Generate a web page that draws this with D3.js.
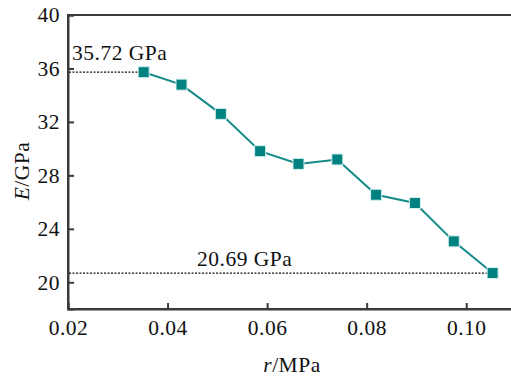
<!DOCTYPE html>
<html>
<head>
<meta charset="utf-8">
<script src="https://cdn.jsdelivr.net/npm/d3@7"></script>
<style>
  body { margin: 0; background: #fff; }
  text { font-family: "Liberation Serif", "DejaVu Serif", serif; fill: #111; }
</style>
</head>
<body>
<div class="container"></div>
<script>
// r in MPa, E in GPa
var rValues = [0.0352, 0.0428, 0.0507, 0.0586, 0.0663, 0.0741, 0.0819, 0.0897, 0.0975, 0.1053];
var eValues = [35.72, 34.79, 32.60, 29.81, 28.86, 29.19, 26.55, 25.93, 23.06, 20.69];
var xTicks = [0.02, 0.04, 0.06, 0.08, 0.10];
var yTicks = [20, 24, 28, 32, 36, 40];
var markLabels = ["35.72 GPa", "20.69 GPa"];

var data = rValues.map(function(r, i) { return {r: r, e: eValues[i]}; });

var margin = {top: 15, left: 68},
    width = 448,
    height = 294;

var fontSize = "21.5px";

var svg = d3.select(".container")
  .append("svg")
    .attr("width", 511)
    .attr("height", 380)
  .append("g")
    .attr("transform", "translate(" + margin.left + "," + margin.top + ")");

var x = d3.scaleLinear().domain([0.02, 0.11]).range([0, width]);
var y = d3.scaleLinear().domain([18, 40]).range([height, 0]);

var axisColor = "#3a3a3a";

// frame (right edge falls outside the picture)
svg.append("rect")
  .attr("x", 0).attr("y", 0)
  .attr("width", width).attr("height", height)
  .attr("fill", "none")
  .attr("stroke", axisColor)
  .attr("stroke-width", 2);

// axes, ticks pointing inward
var xAxis = svg.append("g")
  .attr("transform", "translate(0," + height + ")")
  .call(d3.axisBottom(x).tickValues(xTicks).tickSize(-6).tickPadding(11)
    .tickFormat(d3.format(".2f")));
var yAxis = svg.append("g")
  .call(d3.axisLeft(y).tickValues(yTicks).tickSize(-6).tickPadding(8));

[xAxis, yAxis].forEach(function(a) {
  a.select(".domain").attr("stroke", axisColor).attr("stroke-width", 2);
  a.selectAll(".tick line").attr("stroke", axisColor).attr("stroke-width", 2);
  a.selectAll(".tick text")
    .style("font-family", "Liberation Serif, serif")
    .style("font-size", fontSize)
    .style("letter-spacing", "0.5px")
    .attr("fill", "#111");
});

// dotted reference lines for first and last point
var refs = [data[0], data[data.length - 1]];
svg.selectAll(".ref")
  .data(refs)
  .enter()
  .append("line")
    .attr("class", "ref")
    .attr("x1", 1)
    .attr("x2", function(d) { return x(d.r); })
    .attr("y1", function(d) { return y(d.e); })
    .attr("y2", function(d) { return y(d.e); })
    .attr("stroke", "#111")
    .attr("stroke-width", 1.2)
    .attr("stroke-dasharray", "2,1.5");

svg.append("text")
  .attr("x", 4)
  .attr("y", y(refs[0].e) - 12)
  .style("font-size", fontSize)
  .style("letter-spacing", "0.5px")
  .text(markLabels[0]);

svg.append("text")
  .attr("x", 129)
  .attr("y", y(refs[1].e) - 7)
  .style("font-size", fontSize)
  .style("letter-spacing", "0.5px")
  .text(markLabels[1]);

// line
var line = d3.line()
  .x(function(d) { return x(d.r); })
  .y(function(d) { return y(d.e); });

svg.append("path")
  .datum(data)
  .attr("fill", "none")
  .attr("stroke", "#148a8a")
  .attr("stroke-width", 2)
  .attr("d", line);

// square markers
var s = 11;
svg.selectAll(".pt")
  .data(data)
  .enter()
  .append("rect")
    .attr("class", "pt")
    .attr("x", function(d) { return x(d.r) - s / 2; })
    .attr("y", function(d) { return y(d.e) - s / 2; })
    .attr("width", s)
    .attr("height", s)
    .attr("fill", "#008380")
    .attr("stroke", "#d8efef")
    .attr("stroke-width", 1);

// axis titles
var xt = svg.append("text")
  .attr("x", width / 2)
  .attr("y", 357)
  .attr("text-anchor", "middle")
  .style("font-size", fontSize)
  .style("letter-spacing", "0.5px");
xt.append("tspan").style("font-style", "italic").text("r");
xt.append("tspan").text("/MPa");

var yt = svg.append("text")
  .attr("transform", "translate(-39," + (height / 2 + 9) + ") rotate(-90)")
  .attr("text-anchor", "middle")
  .style("font-size", fontSize)
  .style("letter-spacing", "0.5px");
yt.append("tspan").style("font-style", "italic").text("E");
yt.append("tspan").text("/GPa");
</script>
</body>
</html>
